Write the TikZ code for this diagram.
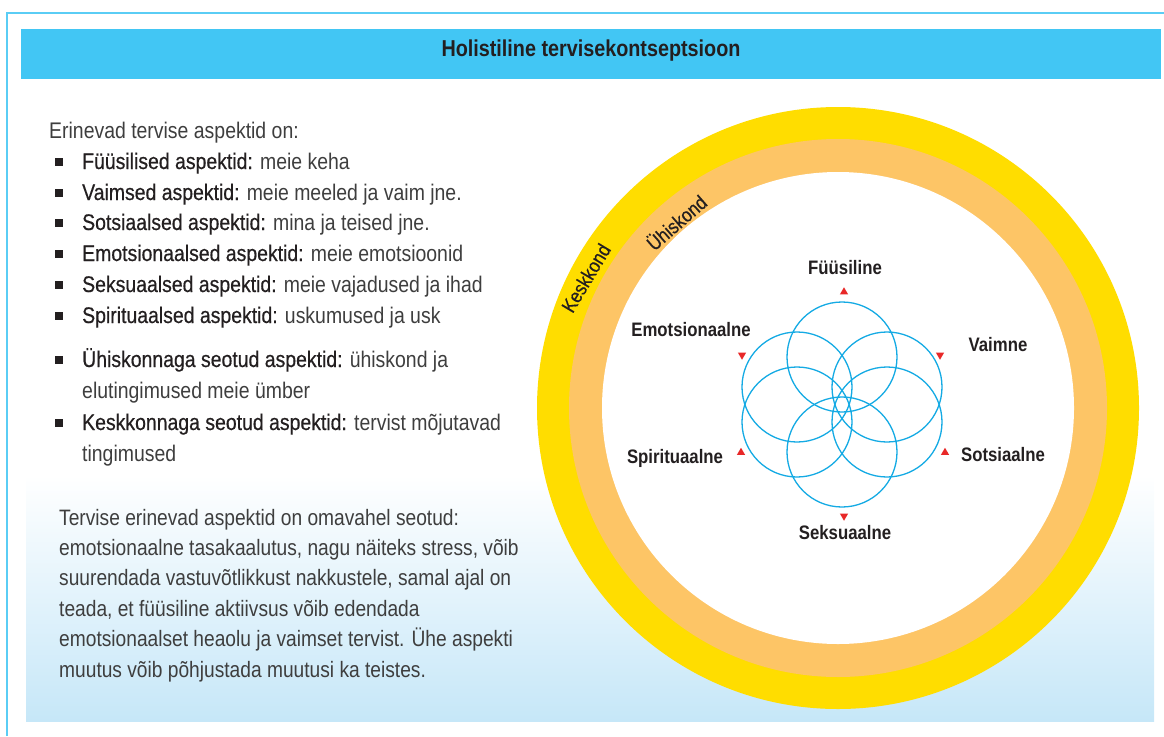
\documentclass[tikz,border=0pt]{standalone}
\usepackage{fontspec}
\setmainfont{Liberation Sans}[FakeStretch=0.86]
\newfontfamily\medfont{Liberation Sans}[FakeStretch=0.86,FakeBold=0.5]
\usetikzlibrary{shapes.geometric,calc}
\definecolor{framebl}{RGB}{90,205,245}
\definecolor{headbl}{RGB}{66,198,244}
\definecolor{ringyel}{RGB}{255,221,0}
\definecolor{ringorg}{RGB}{253,197,102}
\definecolor{petal}{RGB}{20,170,228}
\definecolor{mark}{RGB}{232,40,40}
\definecolor{ink}{RGB}{35,31,32}
\definecolor{softink}{RGB}{62,62,62}
\definecolor{paneblue}{RGB}{198,231,248}
\newcommand\lab[1]{{\medfont\color{ink}#1}}
\tikzset{
  body/.style={anchor=base west, inner sep=0pt, text=softink,
    font=\fontsize{22.6}{26}\selectfont},
  para/.style={body, font=\fontsize{22.3}{26}\selectfont},
  bul/.style={fill=ink, minimum size=8pt, inner sep=0pt},
  petalring/.style={draw=petal, line width=1.3pt},
  aspect/.style={inner sep=0pt, text=ink, font=\bfseries\fontsize{19.5}{23}\selectfont},
  ringlab/.style={inner sep=0pt, text=ink, font=\medfont\fontsize{20}{24}\selectfont},
  tri/.style={regular polygon, regular polygon sides=3, fill=mark, inner sep=0pt, minimum size=9.5pt},
  triup/.style={tri},
  tridown/.style={tri, shape border rotate=180}
}
\begin{document}
\begin{tikzpicture}[x=1pt,y=-1pt]
\useasboundingbox (0,0) rectangle (1164,736);

% frame and heading bar
\draw[framebl, line width=1.6pt] (7,736) -- (7,13) -- (1164,13);
\fill[headbl] (21,29) rectangle (1161,79);
\node[inner sep=0pt, text=ink, font=\bfseries\fontsize{23}{27}\selectfont] (title) at (591,51) {Holistiline tervisekontseptsioon};

% shaded panel behind the paragraph
\shade[top color=white, bottom color=paneblue] (26,475) rectangle (1154,721);

% bulleted list of aspects
\node[body] (intro) at (49,138) {Erinevad tervise aspektid on:};
\foreach \y/\nm/\a/\b in {
  161/l1/Füüsilised aspektid:/meie keha,
  192/l2/Vaimsed aspektid:/meie meeled ja vaim jne.,
  222/l3/Sotsiaalsed aspektid:/mina ja teised jne.,
  253/l4/Emotsionaalsed aspektid:/meie emotsioonid,
  284/l5/Seksuaalsed aspektid:/meie vajadused ja ihad,
  315/l6/Spirituaalsed aspektid:/uskumused ja usk,
  359/l7/Ühiskonnaga seotud aspektid:/ühiskond ja,
  422/l8/Keskkonnaga seotud aspektid:/tervist mõjutavad}{
  \node[bul] (b\nm) at (59,\y+1) {};
  \node[body] (\nm) at (82,\y+8) {\lab{\a} \b};
}
\node[body] (l7b) at (82,398) {elutingimused meie ümber};
\node[body] (l8b) at (82,461) {tingimused};

% paragraph
\foreach \t [count=\i] in {
  Tervise erinevad aspektid on omavahel seotud:,
  {emotsionaalne tasakaalutus, nagu näiteks stress, võib},
  {suurendada vastuvõtlikkust nakkustele, samal ajal on},
  {teada, et füüsiline aktiivsus võib edendada},
  emotsionaalset heaolu ja vaimset tervist. Ühe aspekti,
  muutus võib põhjustada muutusi ka teistes.}{
  \node[para] (p\i) at (59,{517+30.4*(\i-1)+8}) {\t};
}

% environment and society rings
\coordinate (c) at (838,408);
\fill[ringyel] (c) circle[radius=301];
\fill[ringorg] (c) circle[radius=269];
\fill[white] (c) circle[radius=236];
\node[ringlab, rotate=59] (kesk) at (586,278) {Keskkond};
\node[ringlab, rotate=41] (uhis) at (676,222) {Ühiskond};

% six overlapping circles
\coordinate (f) at (842,404.5);
\foreach \dx/\dy in {0/-47.5, 0/47.5, -45/-17.5, -45/17.5, 45/-17.5, 45/17.5}{
  \draw[petalring] ($(f)+(\dx,\dy)$) circle[radius=55];
}

% aspect names and their markers
\node[aspect] (fyys) at (845,268) {Füüsiline};
\node[aspect] (emo) at (691,330) {Emotsionaalne};
\node[aspect] (vai) at (998,345) {Vaimne};
\node[aspect] (spir) at (675,458) {Spirituaalne};
\node[aspect] (sots) at (1003,455) {Sotsiaalne};
\node[aspect] (seks) at (845,533) {Seksuaalne};
\node[triup] (tf) at (844,292) {};
\node[tridown] (te) at (742,355) {};
\node[tridown] (tv) at (940,355) {};
\node[triup] (tsp) at (741,452.5) {};
\node[triup] (tso) at (945,452.5) {};
\node[tridown] (tse) at (844,516) {};
\end{tikzpicture}
\end{document}
